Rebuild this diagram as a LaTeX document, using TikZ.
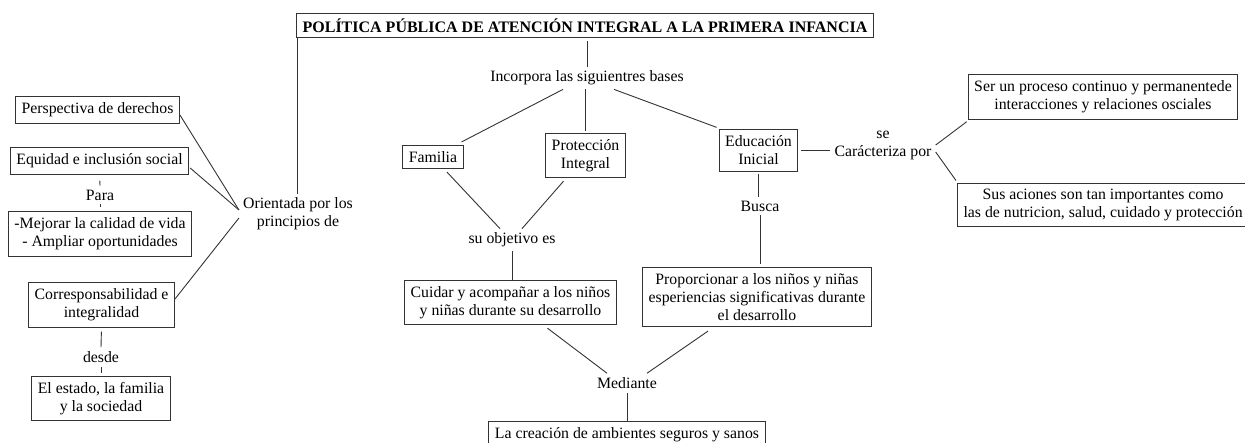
\documentclass[tikz,border=0pt]{standalone}
\usepackage{fontspec}
\setmainfont{Liberation Serif}
\begin{document}
\begin{tikzpicture}[x=1pt,y=-1pt,
    every node/.style={font=\fontsize{15.8}{18}\selectfont, align=center},
    box/.style={draw=black!80, line width=1.1pt, inner xsep=6pt, inner ysep=6pt},
    word/.style={inner sep=4pt},
    link/.style={draw=black!80, line width=0.9pt}]
\useasboundingbox (0,0) rectangle (1245,443);
% Title
\node[box, font=\bfseries\fontsize{16}{18}\selectfont, inner ysep=5pt] (titulo) at (585,25.5)
    {POLÍTICA PÚBLICA DE ATENCIÓN INTEGRAL A LA PRIMERA INFANCIA};
% Left column: principles
\node[box] (derechos) at (97.5,110) {Perspectiva de derechos};
\node[box] (equidad) at (99.5,161) {Equidad e inclusión social};
\node[word] (para) at (100,195) {Para};
\node[box] (mejorar) at (100,234) {-Mejorar la calidad de vida\\ - Ampliar oportunidades};
\node[box] (corresp) at (101.5,305) {Corresponsabilidad e\\ integralidad};
\node[word] (desde) at (101,357) {desde};
\node[box] (estado) at (101,398.5) {El estado, la familia\\ y la sociedad};
\node[word] (orientada) at (298,214) {Orientada por los\\ principios de};
% Centre: bases
\node[word] (bases) at (587,78) {Incorpora las siguientres bases};
\node[box] (familia) at (433,157) {Familia};
\node[box] (proteccion) at (585.5,155.5) {Protección\\ Integral};
\node[box] (educacion) at (758.5,150.5) {Educación\\ Inicial};
\node[word] (objetivo) at (512,240) {su objetivo es};
\node[box] (cuidar) at (510.5,302.5) {Cuidar y acompañar a los niños\\ y niñas durante su desarrollo};
\node[word] (busca) at (760,206) {Busca};
\node[box] (proporcionar) at (757,297) {Proporcionar a los niños y niñas\\ esperiencias significativas durante\\ el desarrollo};
\node[word] (mediante) at (627,383) {Mediante};
\node[box] (creacion) at (627,435) {La creación de ambientes seguros y sanos};
% Right: characteristics
\node[word] (caracteriza) at (883,145) {se\\ Carácteriza por};
\node[box] (proceso) at (1103,97) {Ser un proceso continuo y permanentede\\ interacciones y relaciones osciales};
\node[box, anchor=west] (acciones) at (957,205) {Sus aciones son tan importantes como\\ las de nutricion, salud, cuidado y protección};

% Connectors, left
\draw[link] ([xshift=1pt]titulo.south west) -- ([xshift=1pt]titulo.south west |- orientada.north);
\draw[link] ([yshift=-5pt]derechos.east) -- ([yshift=4pt]orientada.west);
\draw[link] ([xshift=1pt,yshift=-7pt]equidad.east) -- ([yshift=4pt]orientada.west);
\draw[link] ([yshift=6pt]corresp.east) -- ([yshift=-4pt]orientada.west);
\draw[link, shorten <=6pt] (equidad.south) -- (para.north);
\draw[link, shorten >=4pt] (para.south) -- (mejorar.north);
\draw[link, shorten <=4pt] (corresp.south) -- (desde.north);
\draw[link, shorten >=3pt] (desde.south) -- (estado.north);
% Connectors, centre
\draw[link, shorten >=3pt] (bases.north) -- (bases.north |- titulo.south);
\draw[link] ([xshift=-24pt]bases.south) -- ([xshift=-2pt,yshift=3pt]familia.north east);
\draw[link] (proteccion.north |- bases.south) -- ([yshift=2pt]proteccion.north);
\draw[link] ([xshift=27pt]bases.south) -- ([xshift=-2pt,yshift=2pt]educacion.north west);
\draw[link] ([xshift=14pt,yshift=-3pt]familia.south) -- ([xshift=-12pt]objetivo.north);
\draw[link] ([xshift=-22pt,yshift=-3pt]proteccion.south) -- ([xshift=10pt]objetivo.north);
\draw[link] (objetivo.south) -- (objetivo.south |- cuidar.north);
\draw[link] ([yshift=-2pt]educacion.south) -- (educacion.south |- busca.north);
\draw[link] (busca.south) -- ([yshift=3pt]busca.south |- proporcionar.north);
\draw[link] ([xshift=37pt,yshift=-3pt]cuidar.south) -- ([xshift=-20pt]mediante.north);
\draw[link] ([xshift=-49pt,yshift=-4pt]proporcionar.south) -- ([xshift=20pt]mediante.north);
\draw[link] (mediante.south) -- (creacion.north);
% Connectors, right
\draw[link] ([xshift=3pt]educacion.east) -- (educacion.east -| caracteriza.west);
\draw[link] (caracteriza.east) -- ([xshift=-1pt,yshift=-2pt]proceso.south west);
\draw[link] ([yshift=-7pt]caracteriza.east) -- ([xshift=-1pt,yshift=2pt]acciones.north west);
\end{tikzpicture}
\end{document}
